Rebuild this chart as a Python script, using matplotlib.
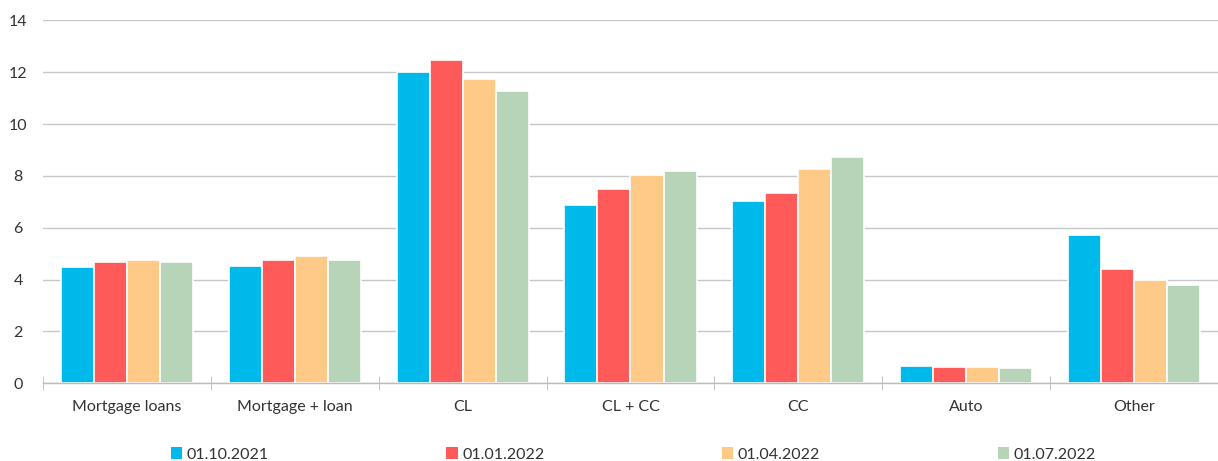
import matplotlib
matplotlib.use("Agg")
import matplotlib.pyplot as plt
from matplotlib.patches import Patch
import numpy as np

categories = ["Mortgage loans", "Mortgage + loan", "CL", "CL + CC", "CC", "Auto", "Other"]
dates = ["01.10.2021", "01.01.2022", "01.04.2022", "01.07.2022"]
oct_2021 = [4.50, 4.54, 12.00, 6.86, 7.03, 0.66, 5.71]
jan_2022 = [4.68, 4.75, 12.46, 7.51, 7.33, 0.64, 4.42]
apr_2022 = [4.74, 4.91, 11.75, 8.05, 8.28, 0.62, 4.00]
jul_2022 = [4.68, 4.77, 11.26, 8.20, 8.72, 0.59, 3.79]
colors = ["#00B9EB", "#FF5A5A", "#FFCA87", "#B8D4B8"]

plt.rcParams['font.family'] = ['Lato', 'DejaVu Sans']
txt = "#333333"
fs = 11.5

fig = plt.figure(figsize=(12.18, 4.61), dpi=100)
ax = fig.add_axes([0.0353, 0.1685, 0.9647, 0.7875])

x = np.arange(len(categories))
w = 0.197
series = [oct_2021, jan_2022, apr_2022, jul_2022]
for i, (vals, c) in enumerate(zip(series, colors)):
    ax.bar(x + (i - 1.5) * w, vals, width=w, color=c, edgecolor="white", linewidth=1.2, zorder=2)

ax.set_ylim(0, 14)
ax.set_yticks(range(0, 15, 2))
ax.set_xlim(-0.5, len(categories) - 0.5)
ax.set_xticks(x)
ax.set_xticklabels(categories)
ax.set_xticks(np.arange(-0.5, len(categories) - 0.5, 1), minor=True)
ax.tick_params(axis="x", which="major", length=0, pad=12, labelsize=fs, labelcolor=txt)
ax.tick_params(axis="x", which="minor", length=10, direction="inout", color="#bbbbbb")
ax.tick_params(axis="y", length=0, labelsize=fs, labelcolor=txt)
for lbl in ax.get_yticklabels():
    lbl.set_horizontalalignment("center")
ax.yaxis.set_tick_params(pad=18)

ax.grid(axis="y", color="#c8c8c8", linewidth=1, zorder=0)
ax.set_axisbelow(True)
for s in ["top", "right", "left"]:
    ax.spines[s].set_visible(False)
ax.spines["bottom"].set_color("#bbbbbb")
ax.spines["bottom"].set_linewidth(1)

handles = [Patch(facecolor=c, edgecolor="none") for c in colors]
fig.legend(handles, dates, loc="center", bbox_to_anchor=(0.52, 0.014), ncol=4,
           frameon=False, fontsize=fs, labelcolor=txt,
           handlelength=0.7, handleheight=0.7, handletextpad=0.3, columnspacing=11.1)

fig.savefig("out.png", dpi=100)
